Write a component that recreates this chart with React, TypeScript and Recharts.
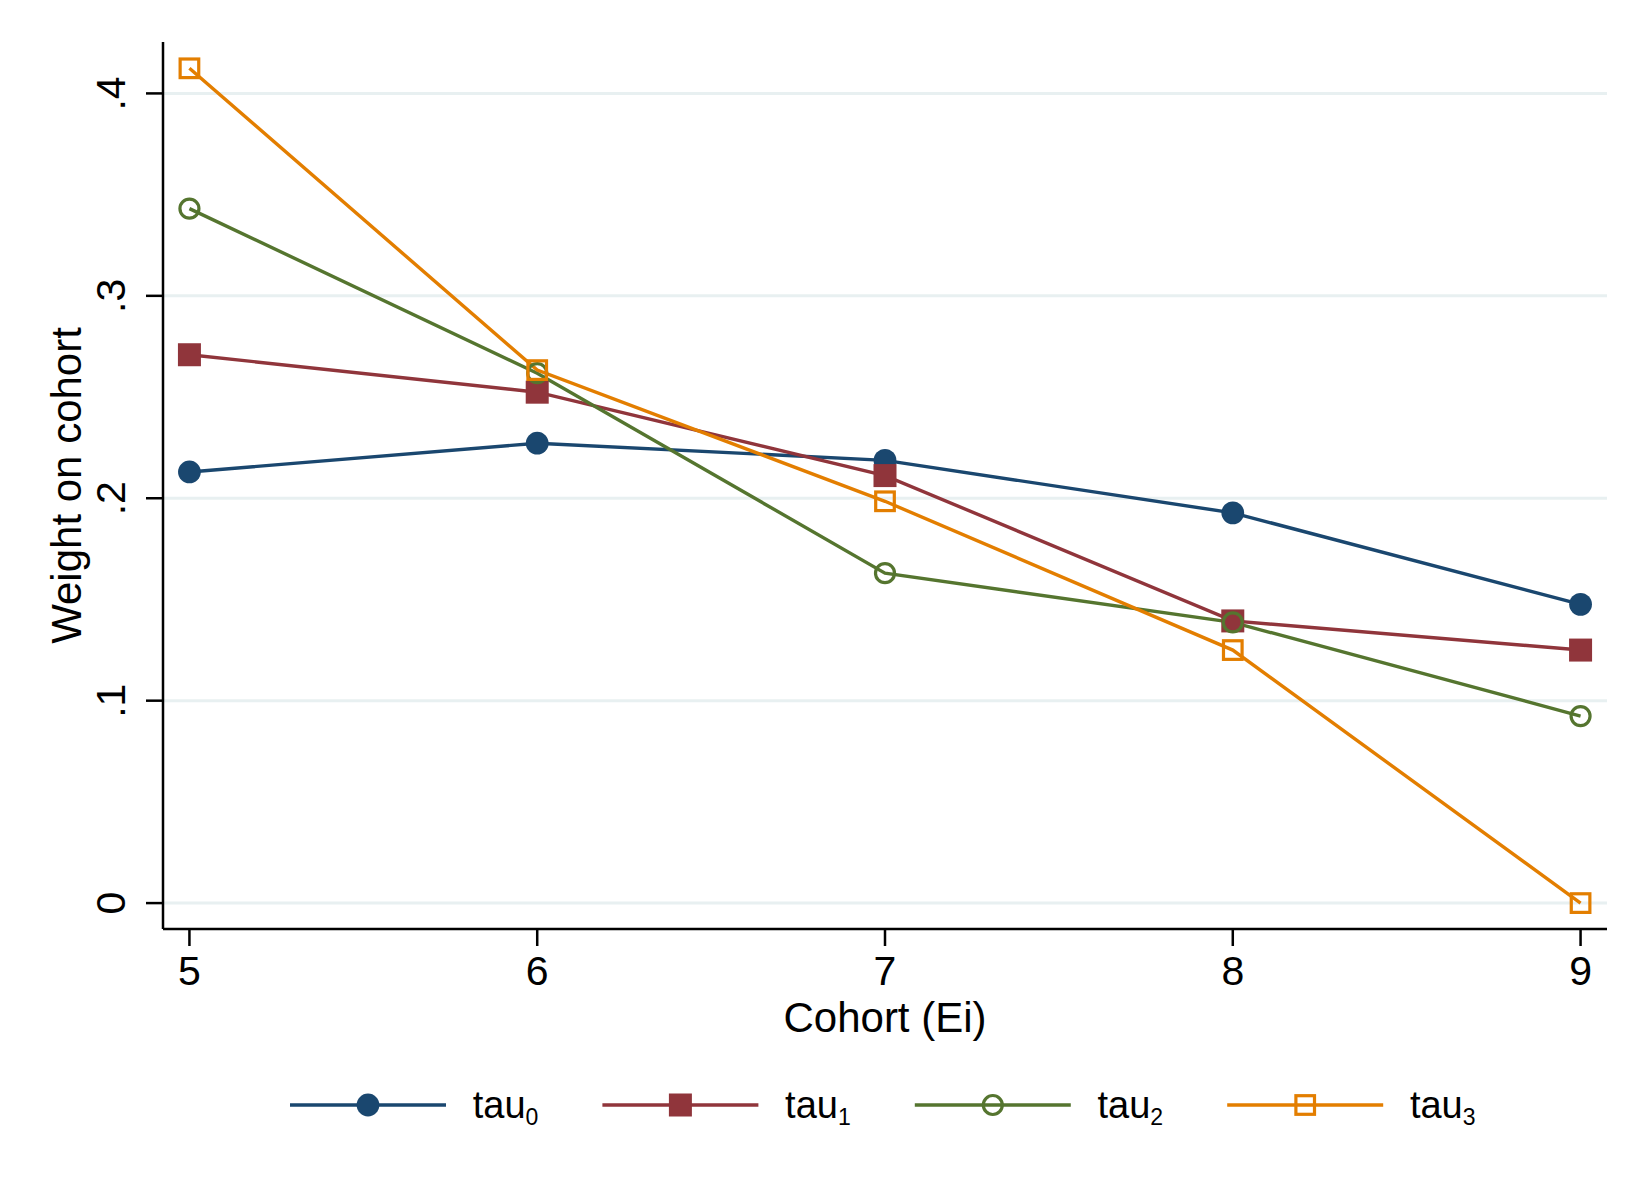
import React from "react";
import { CartesianGrid, Legend, Line, LineChart, XAxis, YAxis } from "recharts";

const COHORTS = [5, 6, 7, 8, 9];
const TAU0 = [0.213, 0.2272, 0.2187, 0.1928, 0.1476];
const TAU1 = [0.2709, 0.2524, 0.2112, 0.1394, 0.125];
const TAU2 = [0.3431, 0.2618, 0.163, 0.1387, 0.0924];
const TAU3 = [0.4124, 0.2633, 0.1985, 0.125, 0.0];
const X_TICKS = [5, 6, 7, 8, 9];
const Y_TICKS = [0, 0.1, 0.2, 0.3, 0.4];
const SERIES_KEYS = ["tau0", "tau1", "tau2", "tau3"];
const SERIES_SUBS = ["0", "1", "2", "3"];
const X_TITLE = "Cohort (Ei)";
const Y_TITLE = "Weight on cohort";

const data = COHORTS.map((c, i) => ({
  cohort: c,
  tau0: TAU0[i],
  tau1: TAU1[i],
  tau2: TAU2[i],
  tau3: TAU3[i],
}));

const FONT = "'Liberation Sans', Arial, Helvetica, sans-serif";
const COLORS = ["#1a476f", "#90353b", "#55752f", "#e37e00"];
const MARKERS = ["circle", "square", "hollowCircle", "hollowSquare"] as const;
const LINE_W = 3.4;

function fmtY(v: number): string {
  if (v === 0) return "0";
  return v.toFixed(1).replace(/^0/, "");
}

function Marker({ kind, cx, cy, color }: { kind: string; cx: number; cy: number; color: string }) {
  if (kind === "circle") return <circle cx={cx} cy={cy} r={11.4} fill={color} />;
  if (kind === "square") return <rect x={cx - 11.5} y={cy - 11.5} width={23} height={23} fill={color} />;
  if (kind === "hollowCircle") return <circle cx={cx} cy={cy} r={9.5} fill="none" stroke={color} strokeWidth={3.2} />;
  return <rect x={cx - 9.3} y={cy - 9.3} width={18.6} height={18.6} fill="none" stroke={color} strokeWidth={3.2} />;
}

function YTick({ x, y, payload }: any) {
  const bx = x - 21;
  return (
    <text x={bx} y={y} transform={`rotate(-90, ${bx}, ${y})`} textAnchor="middle" fontSize={41} fontFamily={FONT} fill="#000">
      {fmtY(payload.value)}
    </text>
  );
}

// legend drawn as one svg strip, Stata style: line + marker, then tau with subscript
function LegendStrip() {
  return (
    <svg width={1650} height={80}>
      {SERIES_KEYS.map((k, i) => {
        const x0 = 290 + i * 312.4;
        return (
          <g key={k}>
            <line x1={x0} x2={x0 + 156} y1={35} y2={35} stroke={COLORS[i]} strokeWidth={LINE_W} />
            <Marker kind={MARKERS[i]} cx={x0 + 78} cy={35} color={COLORS[i]} />
            <text x={x0 + 182.7} y={48} fontSize={38} fontFamily={FONT} fill="#000">
              tau
              <tspan fontSize={23} dy={7}>
                {SERIES_SUBS[i]}
              </tspan>
            </text>
          </g>
        );
      })}
    </svg>
  );
}

export default function App() {
  return (
    <div style={{ position: "absolute", left: 0, top: 0, width: 1650, height: 1200, background: "#fff" }}>
      <LineChart width={1650} height={1200} data={data} margin={{ top: 42, right: 43, left: 0, bottom: 151 }}>
        <CartesianGrid vertical={false} syncWithTicks stroke="#e8f0f1" strokeWidth={3} />
        <XAxis
          dataKey="cohort"
          type="number"
          domain={[4.924, 9.076]}
          ticks={X_TICKS}
          allowDataOverflow
          height={120}
          tickSize={17}
          tickMargin={10}
          axisLine={{ stroke: "#000", strokeWidth: 2.5 }}
          tickLine={{ stroke: "#000", strokeWidth: 2.5 }}
          tick={{ fontSize: 41, fill: "#000", fontFamily: FONT }}
          label={{
            content: ({ viewBox }: any) => (
              <text x={viewBox.x + viewBox.width / 2} y={viewBox.y + 102.7} textAnchor="middle" fontSize={42} fontFamily={FONT} fill="#000">
                {X_TITLE}
              </text>
            ),
          }}
        />
        <YAxis
          type="number"
          domain={[-0.0128, 0.4254]}
          ticks={Y_TICKS}
          allowDataOverflow
          width={163}
          tickSize={17}
          tickMargin={0}
          axisLine={{ stroke: "#000", strokeWidth: 2.5 }}
          tickLine={{ stroke: "#000", strokeWidth: 2.5 }}
          tick={<YTick />}
          label={{
            content: ({ viewBox }: any) => {
              const cy = viewBox.y + viewBox.height / 2;
              return (
                <text x={80.7} y={cy} transform={`rotate(-90, 80.7, ${cy})`} textAnchor="middle" fontSize={42} fontFamily={FONT} fill="#000">
                  {Y_TITLE}
                </text>
              );
            },
          }}
        />
        <Legend
          layout="horizontal"
          verticalAlign="middle"
          align="center"
          wrapperStyle={{ top: 1070, left: 0, width: 1650, height: 80 }}
          content={() => <LegendStrip />}
        />
        {SERIES_KEYS.map((k, i) => (
          <Line
            key={k}
            type="linear"
            dataKey={k}
            stroke={COLORS[i]}
            strokeWidth={LINE_W}
            isAnimationActive={false}
            activeDot={false}
            dot={(p: any) => <Marker key={`${k}-${p.index}`} kind={MARKERS[i]} cx={p.cx} cy={p.cy} color={COLORS[i]} />}
          />
        ))}
      </LineChart>
    </div>
  );
}
